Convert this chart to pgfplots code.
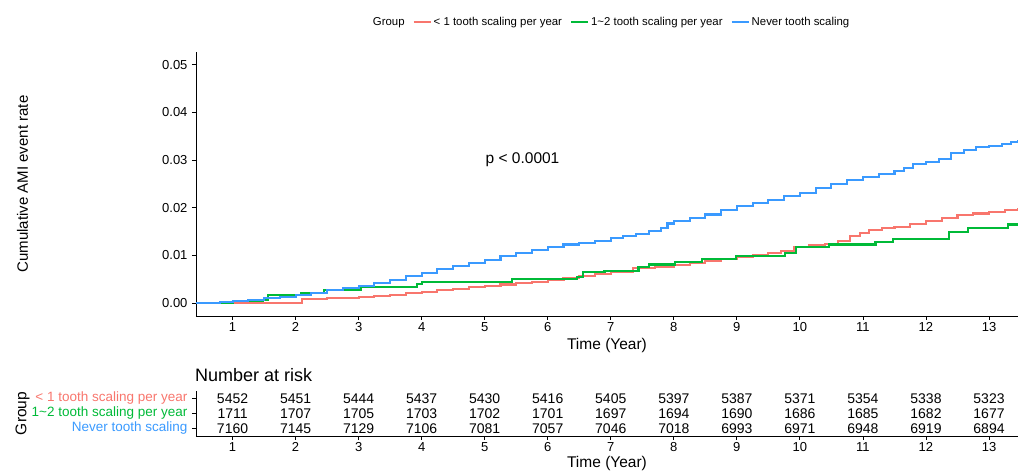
\documentclass[border=0pt]{standalone}
\usepackage{pgfplots}
\pgfplotsset{compat=1.18}
\usepackage{fontspec}
\setmainfont{Liberation Sans}
\definecolor{cred}{HTML}{F8766D}
\definecolor{cgreen}{HTML}{00BA38}
\definecolor{cblue}{HTML}{3A9AFF}
\newcommand{\fs}[1]{\fontsize{#1}{#1}\selectfont}
\begin{document}
\begin{tikzpicture}
\useasboundingbox (0pt,0pt) rectangle (1018pt,473pt);
% main survival axis
\begin{axis}[
  at={(196pt,157pt)}, anchor=south west,
  width=822pt, height=264pt, scale only axis,
  xmin=0.42, xmax=13.46, ymin=-0.0027, ymax=0.0527,
  axis x line*=bottom, axis y line*=left,
  axis line style={black, line width=0.8pt, -},
  xtick={1,...,13}, ytick={0,0.01,0.02,0.03,0.04,0.05},
  tick align=outside, major tick length=4pt,
  tick style={black, line width=0.8pt},
  /pgf/number format/assume math mode=true,
  yticklabel style={/pgf/number format/fixed, /pgf/number format/fixed zerofill, /pgf/number format/precision=2, font=\fs{13}, xshift=-1pt},
  xticklabel style={font=\fs{13}, yshift=1pt},
  scaled y ticks=false,
  xlabel={Time (Year)}, ylabel={Cumulative AMI event rate},
  every axis x label/.style={at={(axis description cs:0.5,-0.11)}, anchor=center, font=\fs{15.5}},
  every axis y label/.style={at={(axis description cs:-0.211,0.5)}, rotate=90, anchor=center, font=\fs{15}},
  legend columns=-1,
  legend style={at={(axis description cs:0.505,1.1136)}, anchor=center, draw=none, fill=none, font=\fs{11.4},
    /tikz/every even column/.append style={column sep=6pt}},
  legend image post style={line width=2pt},
  clip=true,
]
\addlegendimage{empty legend}
\addlegendentry{Group}
% < 1 tooth scaling per year
\addplot[const plot, color=cred, line width=2.1pt] coordinates {
(0.42,0) (1.05,0) (1.05,0.0001) (2.05,0.0001) (2.1,0.0009) (2.5,0.0010) (2.8,0.0011) (3.0,0.0013) (3.25,0.0015) (3.5,0.0018) (3.75,0.0021) (4.0,0.0024) (4.25,0.0027) (4.5,0.0030) (4.75,0.0033) (5.0,0.0036) (5.25,0.0039) (5.5,0.0042) (5.75,0.0045) (6.0,0.0049) (6.25,0.0052) (6.5,0.0056) (6.75,0.0061) (7.0,0.0066) (7.35,0.0073) (7.7,0.0076) (8.0,0.0080) (8.25,0.0084) (8.5,0.0088) (8.75,0.0092) (9.0,0.0096) (9.25,0.0100) (9.5,0.0105) (9.7,0.0110) (9.9,0.0117) (10.15,0.0121) (10.4,0.0125) (10.6,0.0131) (10.8,0.0140) (10.95,0.0147) (11.1,0.0153) (11.3,0.0157) (11.5,0.0160) (11.75,0.0166) (12.0,0.0172) (12.25,0.0178) (12.5,0.0184) (12.75,0.0188) (13.0,0.0192) (13.25,0.0196) (13.46,0.0200)};
\addlegendentry{< 1 tooth scaling per year}
% 1~2 tooth scaling per year
\addplot[const plot, color=cgreen, line width=2.1pt] coordinates {
(0.42,0) (1.0,0.0005) (1.48,0.0007) (1.56,0.0017) (2.08,0.0022) (2.45,0.0027) (3.03,0.0033) (3.93,0.0040) (4.0,0.0045) (5.43,0.0050) (6.46,0.0055) (6.56,0.0066) (6.9,0.0068) (7.44,0.0075) (7.6,0.0081) (8.02,0.0087) (8.44,0.0092) (8.98,0.0098) (9.77,0.0105) (9.94,0.0117) (10.46,0.0123) (11.2,0.0129) (11.47,0.0134) (12.37,0.0149) (12.66,0.0157) (13.3,0.0165) (13.46,0.0165)};
\addlegendentry{1\char`~2 tooth scaling per year}
% Never tooth scaling
\addplot[const plot, color=cblue, line width=2.1pt] coordinates {
(0.42,0) (0.6,0.0001) (0.8,0.0003) (1.0,0.0005) (1.25,0.0007) (1.5,0.0010) (1.75,0.0013) (2.0,0.0017) (2.25,0.0022) (2.5,0.0027) (2.75,0.0031) (3.0,0.0036) (3.25,0.0042) (3.5,0.0048) (3.75,0.0056) (4.0,0.0064) (4.25,0.0071) (4.5,0.0078) (4.75,0.0085) (5.0,0.0091) (5.25,0.0098) (5.5,0.0105) (5.75,0.0111) (6.0,0.0118) (6.25,0.0123) (6.5,0.0127) (6.75,0.0131) (7.0,0.0136) (7.2,0.0140) (7.4,0.0145) (7.6,0.0151) (7.8,0.0158) (7.9,0.0167) (8.0,0.0172) (8.25,0.0179) (8.5,0.0186) (8.75,0.0195) (9.0,0.0203) (9.25,0.0210) (9.5,0.0217) (9.75,0.0224) (10.0,0.0232) (10.25,0.0241) (10.5,0.0250) (10.75,0.0258) (11.0,0.0265) (11.25,0.0271) (11.5,0.0278) (11.65,0.0283) (11.8,0.0292) (12.0,0.0297) (12.2,0.0302) (12.4,0.0315) (12.6,0.0322) (12.8,0.0328) (13.0,0.0330) (13.2,0.0333) (13.35,0.0339) (13.46,0.0342)};
\addlegendentry{Never tooth scaling}
\node[font=\fs{15.5}] at (axis cs:5.6,0.0300) {p < 0.0001};
\end{axis}
% number at risk table
\node[anchor=west, font=\fs{18}, inner sep=0pt] at (195pt,98pt) {Number at risk};
\begin{axis}[
  at={(196pt,37pt)}, anchor=south west,
  width=822pt, height=45pt, scale only axis,
  xmin=0.42, xmax=13.46, ymin=0, ymax=3,
  axis x line*=bottom, axis y line*=left,
  axis line style={black, line width=0.8pt, -},
  xtick={1,...,13}, ytick={0.5,1.5,2.5},
  yticklabels={{\color{cblue}Never tooth scaling},{\color{cgreen}1\char`~2 tooth scaling per year},{\color{cred}< 1 tooth scaling per year}},
  tick align=outside, major tick length=4pt,
  tick style={black, line width=0.8pt},
  /pgf/number format/assume math mode=true,
  yticklabel style={font=\fs{13.5}, xshift=-1pt},
  xticklabel style={font=\fs{13}, yshift=1pt},
  xlabel={Time (Year)}, ylabel={Group},
  every axis x label/.style={at={(axis description cs:0.5,-0.6)}, anchor=center, font=\fs{15.5}},
  every axis y label/.style={at={(axis description cs:-0.211,0.5)}, rotate=90, anchor=center, font=\fs{15.5}},
  clip=false,
]
\addplot[only marks, mark=none, nodes near coords, point meta=explicit symbolic,
  every node near coord/.style={anchor=center, font=\fs{14}, inner sep=0pt}]
  table[meta=n] {
x y n
1 2.5 5452
2 2.5 5451
3 2.5 5444
4 2.5 5437
5 2.5 5430
6 2.5 5416
7 2.5 5405
8 2.5 5397
9 2.5 5387
10 2.5 5371
11 2.5 5354
12 2.5 5338
13 2.5 5323
1 1.5 1711
2 1.5 1707
3 1.5 1705
4 1.5 1703
5 1.5 1702
6 1.5 1701
7 1.5 1697
8 1.5 1694
9 1.5 1690
10 1.5 1686
11 1.5 1685
12 1.5 1682
13 1.5 1677
1 0.5 7160
2 0.5 7145
3 0.5 7129
4 0.5 7106
5 0.5 7081
6 0.5 7057
7 0.5 7046
8 0.5 7018
9 0.5 6993
10 0.5 6971
11 0.5 6948
12 0.5 6919
13 0.5 6894
};
\end{axis}
\end{tikzpicture}
\end{document}
